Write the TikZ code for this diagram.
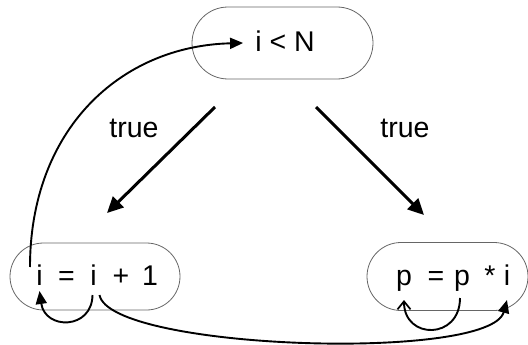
\documentclass[tikz,border=0pt]{standalone}
\usepackage{fontspec}
\setmainfont{Liberation Sans}
\usetikzlibrary{arrows.meta,shapes.misc}
\begin{document}
\begin{tikzpicture}[x=1pt,y=-1pt,
  box/.style={draw=black!60, line width=0.8pt, rounded rectangle, inner sep=0pt},
  ch/.style={anchor=base, inner sep=0pt, font=\fontsize{28.5}{34}\selectfont},
  flow/.style={line width=3pt, -{Triangle[length=16pt,width=15pt]}},
  link/.style={line width=1.9pt, -{Triangle[length=13pt,width=11pt]}},
  openlink/.style={line width=1.9pt, -{Straight Barb[length=8pt,width=13pt,line width=1.7pt]}}]
\useasboundingbox (0,0) rectangle (528,345);
% boxes
\node[box, minimum width=181pt, minimum height=72pt] (top) at (282.5,43) {};
\node[box, minimum width=170pt, minimum height=67pt] (left) at (95,276.5) {};
\node[box, minimum width=161pt, minimum height=68pt] (right) at (447.5,276.5) {};
% texts
\node[ch] (cond) at (285,52) {i < N};
\node[ch] (i1) at (39.5,285) {i};
\node[ch] (eq1) at (66.5,285) {=};
\node[ch] (i2) at (93.5,285) {i};
\node[ch] (plus) at (121,285) {+};
\node[ch] (one) at (150,285) {1};
\node[ch] (p1) at (404,285) {p};
\node[ch] (eq2) at (436,285) {=};
\node[ch] (p2) at (462,285) {p};
\node[ch] (star) at (490,285) {*};
\node[ch] (i3) at (507,285) {i};
\node[ch] (lt) at (134,137) {true};
\node[ch] (rt) at (405,137) {true};
% true arrows
\coordinate (ls) at (215,107);
\coordinate (le) at (107,213);
\coordinate (rs) at (316,107);
\coordinate (re) at (424,215);
\draw[flow] (ls) -- (le);
\draw[flow] (rs) -- (re);
% loop back
\coordinate (back) at (30,267);
\draw[link] (back) .. controls (30,130) and (120,46) .. ([xshift=-12pt,yshift=9pt]cond.base west);
% small arrows
\draw[link] ([xshift=-1pt,yshift=-10pt]i2.base) .. controls (92,330) and (45,330) .. ([yshift=-6pt]i1.base);
\draw[openlink] ([xshift=-2pt,yshift=-13pt]p2.base) .. controls (460,340) and (404,340) .. ([yshift=-15pt]p1.base);
\draw[link] ([xshift=6pt,yshift=-10pt]i2.base) .. controls (110,350) and (490,362) .. ([yshift=-15pt]i3.base);
\end{tikzpicture}
\end{document}
